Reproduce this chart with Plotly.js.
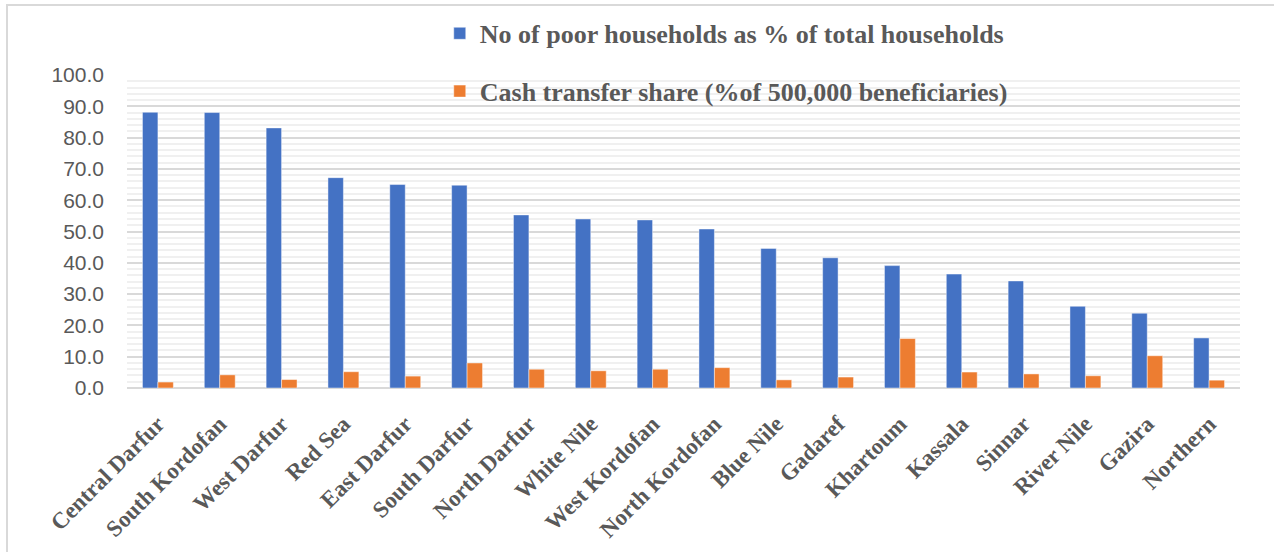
<!DOCTYPE html>
<html>
<head>
<meta charset="utf-8">
<script src="https://cdn.plot.ly/plotly-3.0.1.min.js"></script>
<style>
  html, body { margin: 0; padding: 0; background: #ffffff; }
  #chart { width: 1274px; height: 552px; }
</style>
</head>
<body>
<div id="chart"></div>
<script>
// states, ordered as in the chart
var states = ['Central Darfur', 'South Kordofan', 'West Darfur', 'Red Sea', 'East Darfur',
    'South Darfur', 'North Darfur', 'White Nile', 'West Kordofan', 'North Kordofan',
    'Blue Nile', 'Gadaref', 'Khartoum', 'Kassala', 'Sinnar', 'River Nile', 'Gazira', 'Northern'];

// poor households as % of total households
var poor_pct = [88.1, 88.0, 83.1, 67.2, 65.0, 64.8, 55.3, 54.0, 53.7, 50.8,
    44.6, 41.6, 39.1, 36.4, 34.2, 26.1, 23.9, 16.0];

// cash transfer share (% of 500,000 beneficiaries)
var cash_pct = [1.9, 4.2, 2.7, 5.2, 3.8, 8.0, 6.0, 5.5, 6.0, 6.5,
    2.6, 3.5, 15.8, 5.1, 4.5, 3.9, 10.3, 2.5];

var y_ticks = [0, 10, 20, 30, 40, 50, 60, 70, 80, 90, 100];

var legend_font = {family: 'Liberation Serif, Times New Roman, serif', size: 26, color: '#595959', weight: 'bold'};

var trace1 = {
    name: '<b>No of poor households as % of total households</b>',
    x: states,
    y: poor_pct,
    type: 'bar',
    legendgroup: 'a',
    marker: {color: '#4472C4', line: {color: 'rgba(255,255,255,0.45)', width: 1}},
    hoverinfo: 'x+y'
};

var trace2 = {
    name: '<b>Cash transfer share (%of 500,000 beneficiaries)</b>',
    x: states,
    y: cash_pct,
    type: 'bar',
    legendgroup: 'b',
    marker: {color: '#ED7D31', line: {color: 'rgba(255,255,255,0.45)', width: 1}},
    hoverinfo: 'x+y'
};

var layout = {
    width: 1274,
    height: 552,
    margin: {l: 127, r: 34, t: 75, b: 164, pad: 0, autoexpand: false},
    paper_bgcolor: '#ffffff',
    plot_bgcolor: '#ffffff',
    barmode: 'group',
    bargap: 0.5,
    bargroupgap: 0,
    showlegend: true,
    legend: {
        x: 0.281,
        xanchor: 'left',
        y: 1.208,
        yanchor: 'top',
        orientation: 'v',
        bgcolor: 'rgba(0,0,0,0)',
        font: legend_font,
        tracegroupgap: 21,
        itemwidth: 30
    },
    xaxis: {
        type: 'category',
        tickangle: -45,
        tickfont: {family: 'Liberation Serif, Times New Roman, serif', size: 23, color: '#595959', weight: 'bold'},
        showgrid: false,
        showline: false,
        ticks: '',
        ticklabelstandoff: 17,
        zeroline: false,
        automargin: false
    },
    yaxis: {
        range: [0, 100],
        tickvals: y_ticks,
        tickformat: '.1f',
        tickfont: {family: 'Liberation Sans, Arial, sans-serif', size: 21, color: '#595959'},
        showgrid: true,
        gridcolor: '#d9d9d9',
        gridwidth: 2,
        minor: {dtick: 2, showgrid: true, gridcolor: '#f0f0f0', gridwidth: 2},
        zeroline: true,
        zerolinecolor: '#d9d9d9',
        zerolinewidth: 2,
        ticks: '',
        ticklabelstandoff: 22,
        showline: false,
        automargin: false
    },
    shapes: [{
        type: 'rect',
        xref: 'paper', yref: 'paper',
        x0: -0.1078, x1: 1.2,
        y0: -0.8, y1: 1.2236,
        line: {color: '#d9d9d9', width: 2},
        fillcolor: 'rgba(0,0,0,0)',
        layer: 'below'
    }]
};

Plotly.newPlot('chart', [trace1, trace2], layout, {displayModeBar: false});
</script>
</body>
</html>
